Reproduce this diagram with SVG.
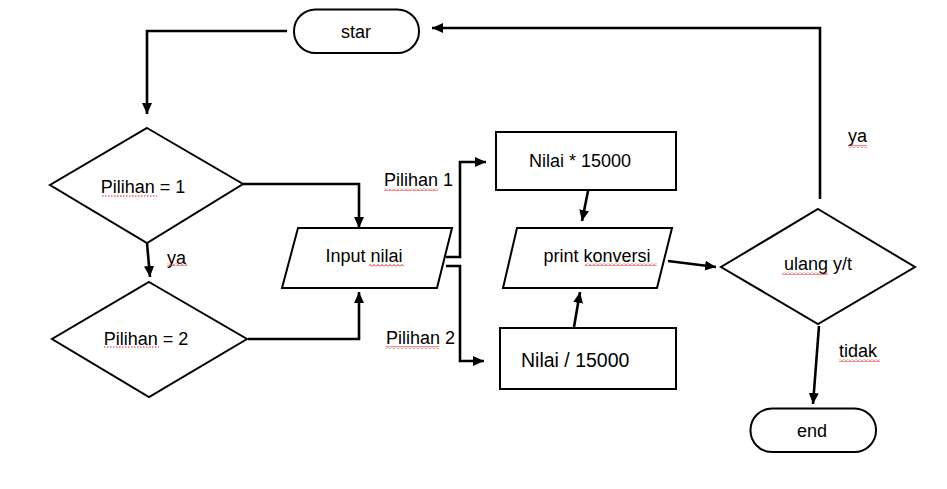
<svg xmlns="http://www.w3.org/2000/svg" width="947" height="489" viewBox="0 0 947 489">
<defs>
<marker id="arr" markerUnits="userSpaceOnUse" markerWidth="12" markerHeight="11" refX="11" refY="5" orient="auto">
<path d="M0,0 L11,5 L0,10 z" fill="#000"/>
</marker>
<pattern id="wave" patternUnits="userSpaceOnUse" width="4" height="3">
<path d="M0,2.5 L2,0.5 L4,2.5" fill="none" stroke="#e02020" stroke-width="1"/>
</pattern>
</defs>
<style>
.shape{fill:#fff;stroke:#000;stroke-width:2}
.conn{fill:none;stroke:#000;stroke-width:2.6}
.t{font-family:"Liberation Sans",Arial,sans-serif;font-size:18px;fill:#000}
.m{text-anchor:middle}
.dot{stroke:#e02020;stroke-width:1.2;stroke-dasharray:1.5 1.5}
</style>
<rect width="947" height="489" fill="#fff"/>

<g id="connectors">
<path class="conn" d="M287,31 H147 V114" marker-end="url(#arr)"/>
<path class="conn" d="M243,184 H359 V228" marker-end="url(#arr)"/>
<path class="conn" d="M147,243 L150,277" marker-end="url(#arr)"/>
<path class="conn" d="M248,339 H359 V292" marker-end="url(#arr)"/>
<path class="conn" d="M446,257 H460 V162 H486" marker-end="url(#arr)"/>
<path class="conn" d="M446,266 H460 V361 H484" marker-end="url(#arr)"/>
<path class="conn" d="M588,191 L582,221" marker-end="url(#arr)"/>
<path class="conn" d="M574,327 L580,292" marker-end="url(#arr)"/>
<path class="conn" d="M668,261 L716,267" marker-end="url(#arr)"/>
<path class="conn" d="M820,199 V28 H432" marker-end="url(#arr)"/>
<path class="conn" d="M819,326 L813,404" marker-end="url(#arr)"/>
<text class="t" x="167" y="264">ya</text>
<text class="t" x="384" y="186">Pilihan 1</text>
<text class="t" x="386" y="344">Pilihan 2</text>
<text class="t" x="848" y="142">ya</text>
<text class="t" x="839" y="357">tidak</text>
<rect x="167" y="263" width="20" height="3" fill="url(#wave)"/>
<rect x="384" y="188" width="54" height="3" fill="url(#wave)"/>
<rect x="386" y="346" width="53" height="3" fill="url(#wave)"/>
<rect x="848" y="145" width="19" height="3" fill="url(#wave)"/>
<rect x="839" y="359" width="41" height="3" fill="url(#wave)"/>
</g>

<g id="star">
<rect class="shape" x="294" y="9.5" width="125" height="43.5" rx="21.5"/>
<text class="t m" x="356" y="38">star</text>
</g>

<g id="pilihan1">
<polygon class="shape" points="147,128 243,184 147,243 50,185"/>
<text class="t m" x="143" y="193">Pilihan = 1</text>
<line class="dot" x1="102" y1="196" x2="157" y2="196"/>
</g>

<g id="pilihan2">
<polygon class="shape" points="149,282 247,339 149,397 52,339"/>
<text class="t m" x="146" y="345">Pilihan = 2</text>
<line class="dot" x1="104" y1="347" x2="159" y2="347"/>
</g>

<g id="input">
<polygon class="shape" points="298,228 452,228 437,288 282,288"/>
<text class="t m" x="364" y="262">Input nilai</text>
<rect x="369" y="264" width="35" height="3" fill="url(#wave)"/>
</g>

<g id="kali">
<rect class="shape" x="496" y="132" width="180" height="58"/>
<text class="t m" x="580" y="167">Nilai * 15000</text>
</g>

<g id="print">
<polygon class="shape" points="517,228 672,228 657,288 503,288"/>
<text class="t m" x="597" y="262">print konversi</text>
<rect x="585" y="263" width="72" height="3" fill="url(#wave)"/>
</g>

<g id="bagi">
<rect class="shape" x="500" y="328" width="176" height="61"/>
<text class="t" x="521" y="367" style="font-size:19.5px">Nilai / 15000</text>
</g>

<g id="ulang">
<polygon class="shape" points="818,209 915,267 818,324 721,267"/>
<text class="t m" x="818" y="270">ulang y/t</text>
<rect x="782" y="272" width="46" height="3" fill="url(#wave)"/>
</g>

<g id="end">
<rect class="shape" x="750.5" y="408.5" width="125.5" height="43.5" rx="21.5"/>
<text class="t m" x="812" y="437">end</text>
</g>
</svg>
